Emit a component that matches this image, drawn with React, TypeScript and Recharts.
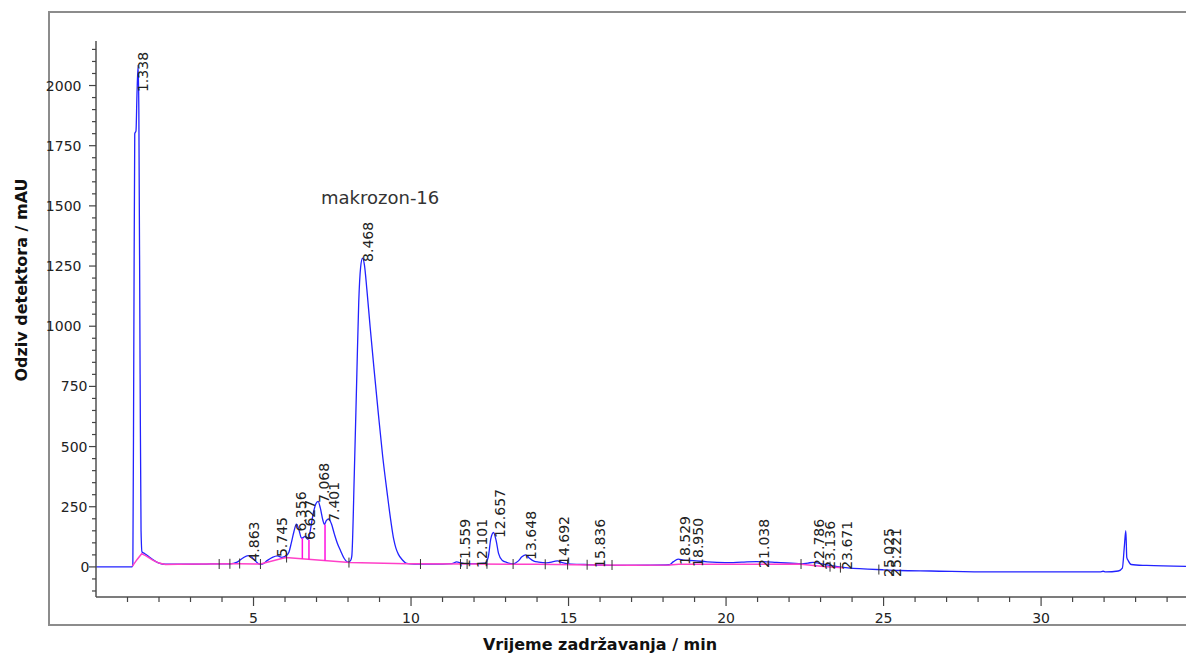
import { ComposedChart, Line, Scatter, XAxis, YAxis, ReferenceLine, ReferenceDot } from 'recharts';

const FONT = "'DejaVu Sans', sans-serif";

// detector signal: [retention time / min, response / mAU]
const SIGNAL: [number, number][] = [
  [0, 0], [1.14, 0], [1.17, 8], [1.2, 900], [1.23, 1800], [1.27, 1812], [1.3, 1960], [1.338, 2085],
  [1.36, 1900], [1.4, 800], [1.43, 150], [1.46, 62], [1.55, 55], [1.7, 40], [1.85, 26], [2.0, 16],
  [2.2, 11], [2.6, 11], [3.0, 11], [3.5, 12], [3.9, 13], [4.25, 13], [4.48, 20], [4.65, 36],
  [4.83, 47], [4.95, 40], [5.08, 22], [5.2, 11], [5.3, 13], [5.43, 26], [5.6, 40], [5.76, 46],
  [5.9, 40], [6.02, 45], [6.12, 60], [6.2, 100], [6.28, 145], [6.36, 178], [6.45, 150], [6.52, 120],
  [6.58, 122], [6.63, 127], [6.68, 120], [6.73, 114], [6.8, 150], [6.9, 225], [6.98, 262], [7.05, 272],
  [7.12, 245], [7.2, 195], [7.25, 176], [7.31, 192], [7.39, 199], [7.47, 180], [7.57, 135], [7.67, 95],
  [7.76, 68], [7.88, 35], [8.0, 20], [8.08, 26], [8.12, 45], [8.2, 390], [8.28, 800], [8.34, 1100],
  [8.4, 1245], [8.46, 1283], [8.52, 1255], [8.6, 1150], [8.7, 1000], [8.82, 830], [8.96, 640], [9.1, 460],
  [9.24, 310], [9.36, 190], [9.45, 115], [9.52, 78], [9.6, 52], [9.72, 30], [9.86, 15], [10.1, 12],
  [11.0, 12], [11.3, 14], [11.45, 21], [11.55, 18], [11.7, 14], [12.1, 14], [12.35, 16], [12.45, 40],
  [12.53, 115], [12.62, 143], [12.7, 110], [12.78, 55], [12.89, 28], [13.05, 18], [13.25, 13], [13.4, 24],
  [13.52, 42], [13.64, 50], [13.76, 36], [13.9, 24], [14.05, 20], [14.3, 17], [14.55, 23], [14.65, 25],
  [14.8, 18], [15.0, 13], [15.5, 10], [16.0, 8], [16.4, 6], [17.5, 7], [18.2, 9], [18.33, 22],
  [18.48, 32], [18.65, 28], [18.97, 26], [19.4, 21], [19.97, 18], [20.5, 20], [20.97, 22], [21.6, 19],
  [22.4, 13], [22.6, 16], [22.77, 19], [22.95, 15], [23.15, 10], [23.35, 5], [23.7, -2], [23.95, -5],
  [24.5, -9], [25.0, -12], [25.5, -15], [26.5, -17], [28.4, -21], [30.0, -21], [31.87, -21], [31.97, -18],
  [32.05, -21], [32.45, -17], [32.58, -5], [32.64, 80], [32.69, 151], [32.72, 40], [32.77, 25], [32.86, 10],
  [33.35, 6], [34.6, 2],
];

// integration baseline
const BASELINE: [number, number][] = [
  [1.15, 2], [1.3, 30], [1.45, 55], [1.6, 45], [1.8, 28], [2.0, 16], [2.2, 10], [2.6, 11],
  [3.5, 12], [4.5, 13], [5.22, 12], [6.02, 39], [8.05, 18], [9.86, 13], [12.0, 12], [14.0, 11],
  [15.8, 8], [17.0, 7], [18.2, 8], [18.5, 11], [20.0, 11], [22.3, 12], [23.1, 2], [23.7, -3],
];

// perpendicular drops between fused peaks: time, baseline, signal
const DROP_TIMES = [6.55, 6.76, 7.27];
const DROP_BASE = [34, 31, 26];
const DROP_TOP = [120, 113, 176];

// peak retention time labels and the height where each label starts
const PEAK_LABELS = [
  '1.338', '4.863', '5.745', '6.356', '6.627', '7.068', '7.401', '8.468', '11.559', '12.101', '12.657',
  '13.648', '14.692', '15.836', '18.529', '18.950', '21.038', '22.786', '23.136', '23.671', '25.025', '25.221',
];
const PEAK_LABEL_Y = [1973, 22, 41, 147, 112, 266, 187, 1267, -4, -4, 120, 29, 8, -4, 8, 0, -4, -4, -12, -12, -42, -42];

// peak start/end markers on the baseline
const SLICE_MARKS: [number, number][] = [
  [3.91, 12], [4.25, 13], [4.56, 14], [5.22, 12], [6.05, 39], [8.03, 18], [10.3, 12], [11.57, 12],
  [11.78, 12], [12.41, 13], [13.24, 12], [14.26, 11], [14.97, 10], [15.59, 9], [16.38, 8], [22.38, 12],
  [23.3, 1], [23.63, -3], [24.85, -11],
];

const X_TICKS = Array.from({ length: 34 }, (_, i) => i + 1);
const Y_TICKS = Array.from({ length: 46 }, (_, i) => -100 + i * 50);

const signalData = SIGNAL.map(([t, v]) => ({ t, v }));
const baselineData = BASELINE.map(([t, v]) => ({ t, v }));
const markData = SLICE_MARKS.map(([t, v]) => ({ t, v }));
const labelData = PEAK_LABELS.map((text, i) => ({ t: parseFloat(text), v: PEAK_LABEL_Y[i], text }));

const XTick = (props: any) => {
  const { x, y, payload } = props;
  const major = payload.value % 5 === 0;
  return (
    <g>
      <line x1={x} y1={y} x2={x} y2={y + (major ? 9 : 5)} stroke="#444" strokeWidth={1.2} />
      {major && (
        <text x={x} y={y + 26} textAnchor="middle" fontSize={14} fontFamily={FONT} fill="#222">
          {payload.value}
        </text>
      )}
    </g>
  );
};

const YTick = (props: any) => {
  const { x, y, payload } = props;
  const v = payload.value;
  const major = v % 250 === 0 && v >= 0 && v <= 2000;
  const len = String(v).length;
  const shift = len >= 4 ? 8 : len === 3 ? 2 : 0;
  return (
    <g>
      <line x1={x} y1={y} x2={x - (major ? 7 : 4)} y2={y} stroke="#444" strokeWidth={1.2} />
      {major && (
        <text x={x - 6.5 - shift} y={y + 5} textAnchor="end" fontSize={14} fontFamily={FONT} fill="#222">
          {v}
        </text>
      )}
    </g>
  );
};

const SliceMark = (props: any) => {
  const { cx, cy } = props;
  return <line x1={cx} y1={cy - 5} x2={cx} y2={cy + 5} stroke="#333" strokeWidth={1} />;
};

const PeakLabel = (props: any) => {
  const { cx, cy, payload } = props;
  const x = cx + 5;
  return (
    <text
      x={x}
      y={cy}
      transform={`rotate(-90, ${x}, ${cy})`}
      textAnchor="start"
      dominantBaseline="central"
      fontSize={14}
      fontFamily={FONT}
      fill="#222"
    >
      {payload.text}
    </text>
  );
};

export default function App() {
  return (
    <div style={{ position: 'fixed', left: 0, top: 0, width: 1186, height: 655, overflow: 'hidden', background: '#fff' }}>
      <div
        style={{
          position: 'absolute',
          left: 48,
          top: 11,
          width: 1200,
          height: 611,
          border: '2px solid #8c8c8c',
        }}
      />
      <div style={{ position: 'absolute', left: 0, top: 0 }}>
        <ComposedChart width={1186} height={655} margin={{ top: 41, right: 0, bottom: 28, left: 0 }}>
          <XAxis
            type="number"
            dataKey="t"
            domain={[0, 34.6]}
            allowDataOverflow
            ticks={X_TICKS}
            interval={0}
            tickSize={0}
            tickMargin={0}
            tickLine={false}
            tick={<XTick />}
            axisLine={{ stroke: '#505050', strokeWidth: 1.5 }}
            height={30}
            label={{
              content: () => (
                <text x={600} y={650} textAnchor="middle" fontSize={16} fontWeight="bold" fontFamily={FONT} fill="#111">
                  Vrijeme zadržavanja / min
                </text>
              ),
            }}
          />
          <YAxis
            type="number"
            domain={[-125, 2185]}
            allowDataOverflow
            ticks={Y_TICKS}
            interval={0}
            tickSize={0}
            tickMargin={0}
            tickLine={false}
            tick={<YTick />}
            axisLine={{ stroke: '#505050', strokeWidth: 1.5 }}
            width={96}
            label={{
              content: () => (
                <text
                  x={21}
                  y={280}
                  transform="rotate(-90, 21, 280)"
                  textAnchor="middle"
                  dominantBaseline="central"
                  fontSize={16}
                  fontWeight="bold"
                  fontFamily={FONT}
                  fill="#111"
                >
                  Odziv detektora / mAU
                </text>
              ),
            }}
          />
          <Line
            data={signalData}
            dataKey="v"
            type="monotone"
            stroke="#2222ff"
            strokeWidth={1.3}
            dot={false}
            activeDot={false}
            isAnimationActive={false}
          />
          <Line
            data={baselineData}
            dataKey="v"
            type="linear"
            stroke="#ff40c8"
            strokeWidth={1.5}
            dot={false}
            activeDot={false}
            isAnimationActive={false}
          />
          {DROP_TIMES.map((t, i) => (
            <ReferenceLine
              key={t}
              segment={[
                { x: t, y: DROP_BASE[i] },
                { x: t, y: DROP_TOP[i] },
              ]}
              stroke="#ff10e0"
              strokeWidth={1.5}
            />
          ))}
          <Scatter data={markData} dataKey="v" shape={<SliceMark />} isAnimationActive={false} />
          <Scatter data={labelData} dataKey="v" shape={<PeakLabel />} isAnimationActive={false} />
          <ReferenceDot
            x={9.02}
            y={1534}
            r={0}
            stroke="none"
            label={{ value: 'makrozon-16', position: 'center', fontSize: 18, fontFamily: FONT, fill: '#333' }}
          />
        </ComposedChart>
      </div>
    </div>
  );
}
